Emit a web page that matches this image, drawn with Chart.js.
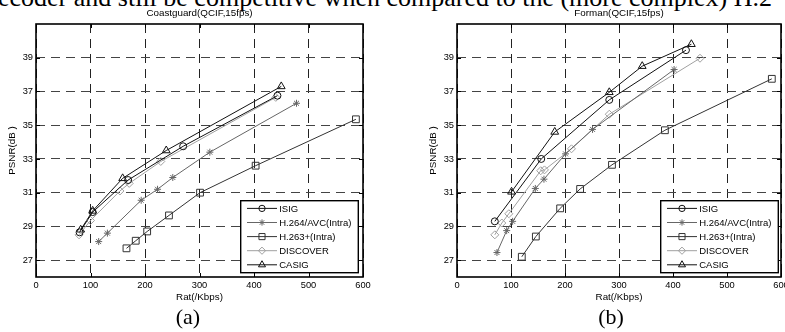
<!DOCTYPE html>
<html>
<head>
<meta charset="utf-8">
<script src="https://cdn.jsdelivr.net/npm/chart.js@4.4.0/dist/chart.umd.min.js"></script>
<style>
body{margin:0;width:785px;height:332px;overflow:hidden;background:#fff;position:relative}
.top{position:absolute;left:-2px;top:-15px;font:26px/1 "Liberation Serif","Times New Roman",serif;white-space:nowrap;color:#000}
.lab{position:absolute;width:60px;text-align:center;top:306px;font:22px/1 "Liberation Serif","Times New Roman",serif;color:#000}
#wa{position:absolute;left:0;top:0}
#wb{position:absolute;left:421px;top:0}
</style>
</head>
<body>
<div class="top">ecoder and still be competitive when compared to the (more complex) H.2</div>
<canvas id="wa" width="392" height="305"></canvas>
<canvas id="wb" width="380" height="305"></canvas>
<div class="lab" style="left:158px">(a)</div>
<div class="lab" style="left:581px">(b)</div>
<script>
const xTicks = [0, 100, 200, 300, 400, 500, 600];
const yTicks = [27, 29, 31, 33, 35, 37, 39];
const seriesNames = ['ISIG', 'H.264/AVC(Intra)', 'H.263+(Intra)', 'DISCOVER', 'CASIG'];

// Coastguard (a)
const cgIsigRate = [80, 104, 169, 270, 443];
const cgIsigPsnr = [28.65, 29.85, 31.75, 33.75, 36.75];
const cgH264Rate = [115, 131, 193, 223, 251, 319, 478];
const cgH264Psnr = [28.1, 28.6, 30.55, 31.2, 31.9, 33.4, 36.3];
const cgH263Rate = [166, 183, 204, 244, 301, 403, 587];
const cgH263Psnr = [27.7, 28.15, 28.7, 29.65, 31.0, 32.6, 35.35];
const cgDiscRate = [79, 100, 154, 171, 229, 440];
const cgDiscPsnr = [28.5, 29.35, 31.1, 31.55, 32.85, 36.65];
const cgCasigRate = [82, 104, 159, 239, 450];
const cgCasigPsnr = [28.8, 29.92, 31.85, 33.5, 37.3];

// Forman (b)
const fmIsigRate = [70, 156, 282, 424];
const fmIsigPsnr = [29.3, 33.0, 36.5, 39.45];
const fmH264Rate = [74, 92, 103, 145, 161, 201, 251, 402];
const fmH264Psnr = [27.45, 28.75, 29.3, 31.25, 31.8, 33.3, 34.75, 38.3];
const fmH263Rate = [120, 146, 191, 228, 287, 385, 583];
const fmH263Psnr = [27.2, 28.4, 30.07, 31.22, 32.65, 34.7, 37.75];
const fmDiscRate = [70, 83, 96, 155, 162, 212, 282, 450];
const fmDiscPsnr = [28.5, 29.2, 29.75, 32.3, 32.35, 33.6, 35.65, 38.97];
const fmCasigRate = [101, 181, 282, 343, 434];
const fmCasigPsnr = [31.05, 34.6, 36.95, 38.5, 39.8];

const looks = [
  {color: '#111', point: 'circle', r: 3.5},
  {color: '#666', point: 'star', r: 3.5},
  {color: '#333', point: 'rect', r: 4.8},
  {color: '#a0a0a0', point: 'rectRot', r: 4},
  {color: '#111', point: 'triangle', r: 4.5}
];

const FONT = '"Liberation Sans", Arial, sans-serif';

// box, inward ticks, title and legend drawn the matlab way
const matlabBits = {
  id: 'matlabBits',
  afterDatasetsDraw(chart, args, opts) {
    const ctx = chart.ctx;
    const a = chart.chartArea;
    const xs = chart.scales.x, ys = chart.scales.y;
    ctx.save();
    ctx.strokeStyle = '#000';
    ctx.lineWidth = 1;
    ctx.beginPath();
    xTicks.forEach(v => {
      const px = Math.round(xs.getPixelForValue(v)) + 0.5;
      ctx.moveTo(px, a.bottom); ctx.lineTo(px, a.bottom - 4);
      ctx.moveTo(px, a.top); ctx.lineTo(px, a.top + 4);
    });
    yTicks.forEach(v => {
      const py = Math.round(ys.getPixelForValue(v)) + 0.5;
      ctx.moveTo(a.left, py); ctx.lineTo(a.left + 4, py);
      ctx.moveTo(a.right, py); ctx.lineTo(a.right - 4, py);
    });
    ctx.stroke();
    ctx.lineWidth = 1.6;
    ctx.strokeRect(a.left, a.top, a.right - a.left, a.bottom - a.top);

    // title
    ctx.fillStyle = '#000';
    ctx.font = '9.8px ' + FONT;
    ctx.textAlign = 'center';
    ctx.textBaseline = 'middle';
    ctx.fillText(opts.title, (a.left + a.right) / 2, 13.5);

    // legend
    const w = 117.6, h = 72;
    const lx = a.right - opts.legendRight - w;
    const ly = a.bottom - 4.3 - h;
    ctx.fillStyle = '#fff';
    ctx.fillRect(lx, ly, w, h);
    ctx.lineWidth = 1.4;
    ctx.strokeStyle = '#000';
    ctx.strokeRect(lx, ly, w, h);
    ctx.textAlign = 'left';
    ctx.font = '9.5px ' + FONT;
    seriesNames.forEach((name, i) => {
      const y = ly + 7.7 + i * 14.1;
      const lk = looks[i];
      ctx.strokeStyle = lk.color;
      ctx.lineWidth = 1;
      ctx.beginPath();
      ctx.moveTo(lx + 6.3, y); ctx.lineTo(lx + 36.3, y);
      ctx.stroke();
      ctx.fillStyle = 'rgba(0,0,0,0)';
      Chart.helpers.drawPoint(ctx, {pointStyle: lk.point, radius: lk.r * 0.9, rotation: 0, borderWidth: 1}, lx + 21.3, y);
      ctx.fillStyle = '#000';
      ctx.fillText(name, lx + 38.5, y + 0.5);
    });
    ctx.restore();
  }
};

function makeChart(id, title, rates, psnrs, padRight, legendRight) {
  const datasets = seriesNames.map((name, i) => ({
    label: name,
    data: rates[i].map((r, j) => ({x: r, y: psnrs[i][j]})),
    borderColor: looks[i].color,
    backgroundColor: 'rgba(0,0,0,0)',
    borderWidth: 1,
    pointStyle: looks[i].point,
    pointRadius: looks[i].r,
    pointBorderWidth: 1,
    pointBorderColor: looks[i].color,
    pointBackgroundColor: 'rgba(0,0,0,0)',
    tension: 0
  }));
  new Chart(document.getElementById(id), {
    type: 'line',
    data: {datasets: datasets},
    plugins: [matlabBits],
    options: {
      responsive: false,
      animation: false,
      devicePixelRatio: 1,
      layout: {padding: {top: 24, right: padRight, bottom: 0, left: 0}},
      plugins: {
        legend: {display: false},
        tooltip: {enabled: false},
        matlabBits: {title: title, legendRight: legendRight}
      },
      scales: {
        x: {
          type: 'linear', min: 0, max: 600,
          afterBuildTicks: s => { s.ticks = xTicks.map(v => ({value: v})); },
          afterFit: s => { s.height = 28; },
          grid: {color: '#222', lineWidth: 1, drawTicks: false},
          border: {display: false, dash: [9, 6]},
          ticks: {color: '#000', font: {size: 9.3, family: FONT}, padding: 3, maxRotation: 0},
          title: {display: true, text: 'Rat(/Kbps)', color: '#000', font: {size: 9.8, family: FONT}, padding: {top: 0, bottom: 2}}
        },
        y: {
          type: 'linear', min: 26, max: 41,
          afterBuildTicks: s => { s.ticks = yTicks.map(v => ({value: v})); },
          afterFit: s => { s.width = 36; },
          grid: {color: '#444', lineWidth: 1, drawTicks: false},
          border: {display: false, dash: [9, 6]},
          ticks: {color: '#000', font: {size: 9.3, family: FONT}, padding: 3},
          title: {display: true, text: 'PSNR(dB )', color: '#000', font: {size: 9.8, family: FONT}, padding: {top: 6, bottom: 0}}
        }
      }
    }
  });
}

makeChart('wa', 'Coastguard(QCIF,15fps)',
  [cgIsigRate, cgH264Rate, cgH263Rate, cgDiscRate, cgCasigRate],
  [cgIsigPsnr, cgH264Psnr, cgH263Psnr, cgDiscPsnr, cgCasigPsnr], 29, 4.7);
makeChart('wb', 'Forman(QCIF,15fps)',
  [fmIsigRate, fmH264Rate, fmH263Rate, fmDiscRate, fmCasigRate],
  [fmIsigPsnr, fmH264Psnr, fmH263Psnr, fmDiscPsnr, fmCasigPsnr], 20, 2.7);
</script>
</body>
</html>
